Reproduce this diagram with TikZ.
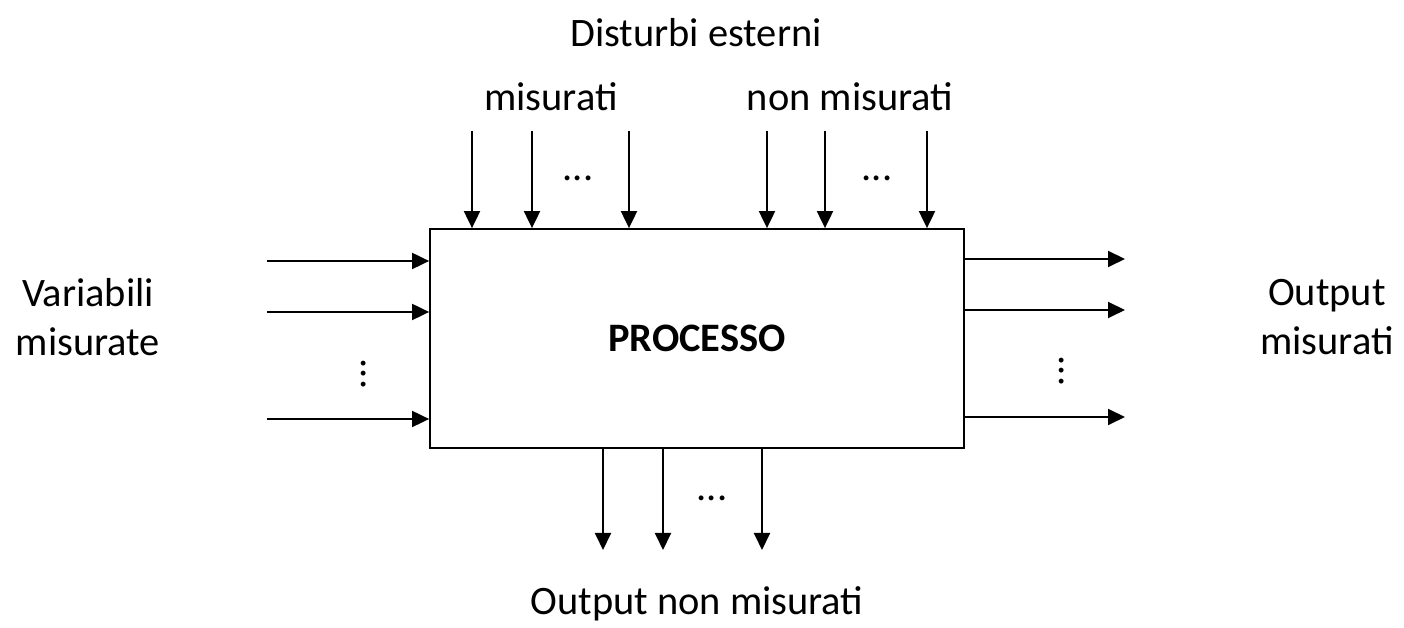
\documentclass[tikz,border=0pt]{standalone}
\usepackage{fontspec}
\setmainfont{Carlito}
\usetikzlibrary{arrows.meta}
\tikzset{
  freccia/.style={line width=1.1pt,-{Triangle[length=0.34cm,width=0.32cm]}},
  testo/.style={font=\fontsize{23}{28}\selectfont, align=center}
}

\begin{document}
\begin{tikzpicture}
\useasboundingbox (0,0) rectangle (28.08,12.56);
% blocco del processo
\node[draw, line width=1pt, minimum width=10.68cm, minimum height=4.38cm, inner sep=0pt, testo] (proc) at (13.94,5.79) {\textbf{PROCESSO}};
% disturbi esterni
\node[testo] (dist) at (13.92,11.9) {Disturbi esterni};
\node[testo] (dmis) at (11.02,10.62) {misurati};
\node[testo] (dnon) at (17.0,10.62) {non misurati};
\foreach \x [count=\i] in {9.44,10.64,12.58,15.34,16.5,18.54}
  \coordinate (d\i) at (\x,9.94);
\foreach \i in {1,...,6}
  \draw[freccia] (d\i) -- (d\i |- proc.north);
\node[testo] (dpt1) at (11.56,9.0) {...};
\node[testo] (dpt2) at (17.54,9.0) {...};
% variabili misurate
\node[testo] (vin) at (1.76,6.22) {Variabili\\misurate};
\foreach \y [count=\i] in {7.34,6.32,4.18}
  \coordinate (u\i) at (5.34,\y);
\foreach \i in {1,2,3}
  \draw[freccia] (u\i) -- (u\i -| proc.west);
\node[testo, rotate=-90] (upt) at (7.28,5.08) {...};
% output misurati
\node[testo] (yout) at (26.54,6.22) {Output\\misurati};
\foreach \y [count=\i] in {7.38,6.36,4.22}
  \coordinate (y\i) at (22.5,\y);
\foreach \i in {1,2,3}
  \draw[freccia] (y\i -| proc.east) -- (y\i);
\node[testo, rotate=-90] (ypt) at (21.23,5.14) {...};
% output non misurati
\node[testo] (znon) at (13.94,0.48) {Output non misurati};
\foreach \x [count=\i] in {12.06,13.26,15.24}
  \coordinate (z\i) at (\x,1.56);
\foreach \i in {1,2,3}
  \draw[freccia] (z\i |- proc.south) -- (z\i);
\node[testo] (zpt) at (14.24,2.6) {...};
\end{tikzpicture}
\end{document}
